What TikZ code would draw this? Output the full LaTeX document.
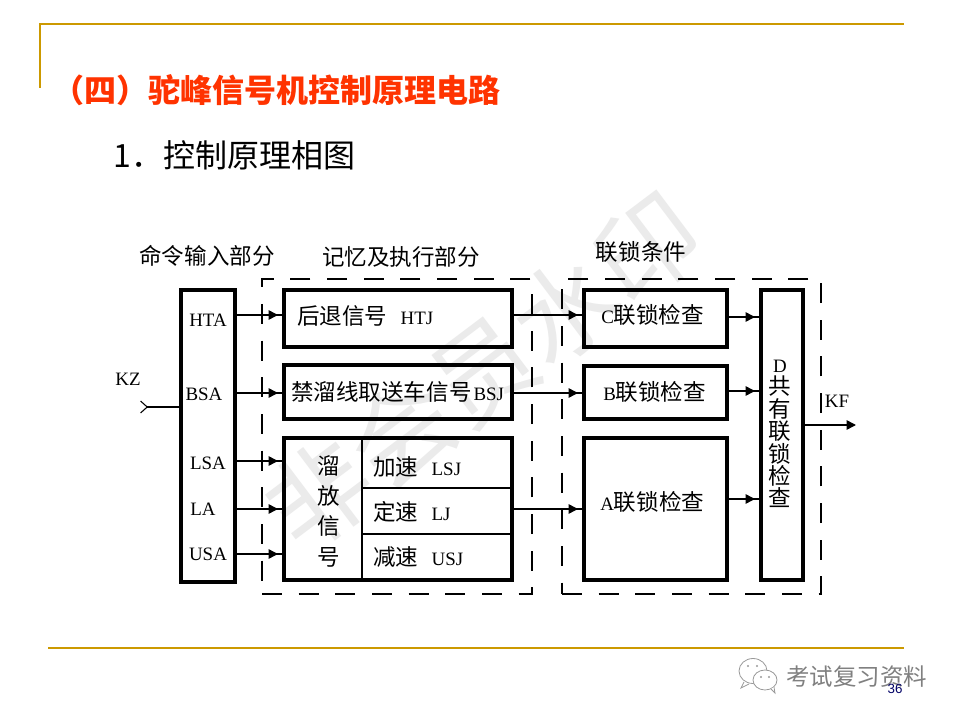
\documentclass[tikz,border=0pt]{standalone}
\usepackage{fontspec}
\usepackage{xcolor}
\setmainfont{Liberation Serif}
\newfontfamily\cjk{Noto Sans CJK SC}
\newfontfamily\arialfont{Liberation Sans}
\usetikzlibrary{arrows.meta,decorations.markings}
\definecolor{rulegold}{HTML}{CC9900}
\definecolor{titlered}{HTML}{FF3300}
\def\px{0.75pt}
\newcommand{\cn}[1]{{\cjk\fontsize{16.9}{20}\selectfont #1}}
\tikzset{
  lab/.style={inner sep=0pt, font=\fontsize{14.2}{17}\selectfont},
  cnlab/.style={inner sep=0pt, font=\fontsize{16.9}{20}\selectfont\cjk},
  blockbox/.style={draw, line width=2.4pt, inner sep=0pt, outer sep=0pt},
  zonebox/.style={draw, line width=1pt, dash pattern=on 15pt off 12.5pt, inner sep=0pt, outer sep=0pt},
  sigline/.style={line width=1.1pt, postaction={decorate},
    decoration={markings, mark=at position #1 with {\arrow{Triangle[length=7pt,width=7pt]}}}},
  sigline/.default=-4.5pt,
  bubble/.style={draw=black!40, fill=white, line width=0.6pt}
}
\begin{document}
\begin{tikzpicture}[x=\px, y=-\px]
\useasboundingbox[fill=white] (0,0) rectangle (960,720);
% watermark
\node[rotate=37, inner sep=0pt, text=black!8, font=\fontsize{77}{80}\selectfont\cjk] (mark) at (483,371) {非会员水印};
% slide rules
\coordinate (ruleA) at (40,88);
\coordinate (ruleB) at (40,24);
\coordinate (ruleC) at (904,24);
\coordinate (ruleD) at (48,648);
\coordinate (ruleE) at (904,648);
\draw[rulegold, line width=1.5pt] (ruleA) -- (ruleB) -- (ruleC);
\draw[rulegold, line width=1.5pt] (ruleD) -- (ruleE);
\node[anchor=west, inner sep=0pt, text=titlered, font=\fontsize{24}{28}\selectfont\cjk\bfseries] (title) at (52,90) {（四）驼峰信号机控制原理电路};
\node[anchor=west, inner sep=0pt, font=\fontsize{24}{28}\selectfont\cjk] (subtitle) at (113,155) {1．控制原理相图};
% dashed zones
\node[zonebox, minimum width=270*\px, minimum height=315*\px] (zoneM) at (397,436.5) {};
\node[zonebox, minimum width=259*\px, minimum height=315*\px] (zoneL) at (691.5,436.5) {};
% blocks
\foreach \name/\cx/\cy/\w/\h in {inbox/208/436/54/292, htj/398/318.5/228/57, bsj/398/392/228/54,
  sig/398/509/228/142, cbox/655.5/318.5/143/57, bbox/655.5/392.5/143/53, abox/655.5/509/143/142,
  dbox/782/435/42/290}{
  \node[blockbox, minimum width=\w*\px, minimum height=\h*\px] (\name) at (\cx,\cy) {};
}
\coordinate (sigA) at (362,438);
\coordinate (sigB) at (362,580);
\coordinate (sigC) at (362,488);
\coordinate (sigD) at (362,534);
\draw[line width=2.2pt] (sigA) -- (sigB);
\draw[line width=1.8pt] (sigC) -- (sigC -| sig.east);
\draw[line width=1.8pt] (sigD) -- (sigD -| sig.east);
% texts
\foreach \name/\x/\y/\txt in {lHTA/208/320/HTA, lBSA/204/394/BSA, lLSA/208/463/LSA, lLA/203/509/LA,
  lUSA/208/554/USA, lKZ/128/379/KZ, lKF/837/401/KF}{
  \node[lab] (\name) at (\x,\y) {\txt};
}
\foreach \name/\x/\y/\txt in {hIn/207/256/命令输入部分, hMem/401/257/记忆及执行部分, hLock/641/252/联锁条件}{
  \node[cnlab] (\name) at (\x,\y) {\txt};
}
\node[lab, anchor=west] (tHTJ) at (297,316) {\cn{后退信号}\hspace{10pt}HTJ};
\node[lab, anchor=west] (tBSJ) at (291,392) {\cn{禁溜线取送车信号}\hspace{1.5pt}BSJ};
\node[lab, anchor=west] (tLSJ) at (373,467) {\cn{加速}\hspace{10pt}LSJ};
\node[lab, anchor=west] (tLJ) at (373,512) {\cn{定速}\hspace{10pt}LJ};
\node[lab, anchor=west] (tUSJ) at (373,557) {\cn{减速}\hspace{10pt}USJ};
\node[lab, anchor=west] (tC) at (601,315) {C\cn{联锁检查}};
\node[lab, anchor=west] (tB) at (603,392) {B\cn{联锁检查}};
\node[lab, anchor=west] (tA) at (600,502) {A\cn{联锁检查}};
\node[inner sep=0pt, align=center, font=\fontsize{16.9}{22.7}\selectfont\cjk] (tS) at (329,511) {溜\\放\\信\\号};
\node[inner sep=0pt, align=center, font=\fontsize{16.9}{16.8}\selectfont\cjk] (tD) at (780,434) {{\rmfamily\fontsize{14.2}{16.8}\selectfont D}\\共\\有\\联\\锁\\检\\查};
% signal lines
\foreach \name/\y/\to in {HTA/315/htj, BSA/393/bsj, LSA/461/sig, LA/509/sig, USA/554/sig}{
  \coordinate (p\name) at (235,\y);
  \draw[sigline] (p\name) -- (p\name -| \to.west);
}
\foreach \name/\y/\from/\to in {htjc/315/htj/cbox, bsjb/393/bsj/bbox, sigA/509/sig/abox,
  cd/317/cbox/dbox, bd/391/bbox/dbox, ad/499/abox/dbox}{
  \coordinate (q\name) at (700,\y);
  \draw[sigline] (q\name -| \from.east) -- (q\name -| \to.west);
}
% input and output
\coordinate (kzEnd) at (140,407);
\coordinate (kfEnd) at (856,425);
\draw[line width=1.1pt, {Straight Barb[reversed,length=5pt,width=9pt,line width=0.8pt]}-] (kzEnd) -- (kzEnd -| inbox.west);
\draw[line width=1.1pt, -{Triangle[length=7pt,width=7pt]}] (kfEnd -| dbox.east) -- (kfEnd);
% account badge
\draw[bubble] (753,671) ellipse (14 and 12.5);
\draw[bubble] (744,682) -- (741,688) -- (749,684);
\draw[bubble] (765,680) ellipse (12 and 10);
\draw[bubble] (771,689) -- (775,693) -- (774,687);
\foreach \x/\y in {748/666, 757/666, 761/677, 769/677}{
  \fill[black!40] (\x,\y) circle (1.2);
}
\node[anchor=west, inner sep=0pt, text=black!50, font=\fontsize{17.6}{20}\selectfont\cjk] (badge) at (786,677) {考试复习资料};
\node[inner sep=0pt, text=blue!40!black, font=\fontsize{10}{12}\selectfont\arialfont] (pageno) at (895,689) {36};
\end{tikzpicture}
\end{document}
